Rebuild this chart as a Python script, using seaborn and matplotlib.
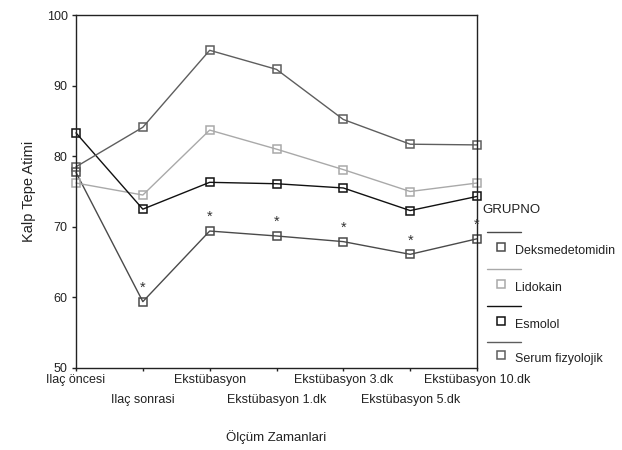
import numpy as np
import pandas as pd
import matplotlib
matplotlib.use("Agg")
import matplotlib.pyplot as plt
import seaborn as sns
from matplotlib.lines import Line2D

# Data
zamanlar = ["Ilaç öncesi", "Ilaç sonrasi", "Ekstübasyon", "Ekstübasyon 1.dk",
            "Ekstübasyon 3.dk", "Ekstübasyon 5.dk", "Ekstübasyon 10.dk"]
gruplar = ["Deksmedetomidin", "Lidokain", "Esmolol", "Serum fizyolojik"]
deksmedetomidin = [77.7, 59.4, 69.4, 68.7, 67.9, 66.1, 68.3]
lidokain = [76.2, 74.5, 83.7, 81.0, 78.1, 75.0, 76.2]
esmolol = [83.3, 72.5, 76.3, 76.1, 75.5, 72.3, 74.3]
serum = [78.5, 84.1, 95.0, 92.3, 85.2, 81.7, 81.6]
anlamli = [False, True, True, True, True, True, True]  # asterisks on Deksmedetomidin
renkler = ["#4a4a4a", "#a9a9a9", "#111111", "#5e5e5e"]

df = pd.DataFrame({
    "zaman": np.tile(np.arange(len(zamanlar)), len(gruplar)),
    "deger": deksmedetomidin + lidokain + esmolol + serum,
    "grup": np.repeat(gruplar, len(zamanlar)),
})

sns.set_style("white")
plt.rcParams['font.family'] = ['Liberation Sans', 'DejaVu Sans']
FS = 9

W, H = 622, 450
fig = plt.figure(figsize=(W / 100, H / 100), dpi=100)
ax = fig.add_axes([76 / W, 1 - 368 / H, (477 - 76) / W, (368 - 15) / H])

for grup, renk in zip(gruplar, renkler):
    sub = df[df["grup"] == grup]
    sns.lineplot(data=sub, x="zaman", y="deger", ax=ax, color=renk, lw=1.0,
                 marker="s", ms=6, mfc="none", mec=renk, mew=1.1,
                 sort=False, clip_on=False, legend=False)

# significance asterisks
for i, (v, s) in enumerate(zip(deksmedetomidin, anlamli)):
    if s:
        ax.annotate("*", (i, v), xytext=(0, 5), textcoords="offset points",
                    ha="center", va="bottom", fontsize=10.5, color="#333333")

ax.set_xlim(0, len(zamanlar) - 1)
ax.set_ylim(50, 100)
ax.set_yticks([50, 60, 70, 80, 90, 100])
ax.set_xticks(range(0, len(zamanlar), 2))
ax.set_xticklabels(zamanlar[0::2])
ax.set_xticks(range(1, len(zamanlar), 2), minor=True)
ax.set_xticklabels(zamanlar[1::2], minor=True)
ax.tick_params(axis="y", which="major", direction="out", length=3, width=1,
               pad=3, labelsize=FS, colors="#222222", left=True)
ax.tick_params(axis="x", which="major", direction="out", length=2.5, width=1,
               pad=2, labelsize=FS, colors="#222222", bottom=True)
ax.tick_params(axis="x", which="minor", direction="out", length=2.5, width=1,
               pad=16, labelsize=FS, colors="#222222", bottom=True)

for sp in ax.spines.values():
    sp.set_visible(True)
    sp.set_color("#222222")
    sp.set_linewidth(1.0)

ax.set_xlabel("Ölçüm Zamanlari", fontsize=9.5, color="#222222")
ax.xaxis.set_label_coords(0.5, -0.175)
ax.set_ylabel("Kalp Tepe Atimi", fontsize=10.5, color="#222222")
ax.yaxis.set_label_coords(-0.1, 0.5)

# legend (SPSS style: line above marker)
def fx(x):
    return x / W

def fy(y):
    return 1 - y / H

fig.text(fx(482), fy(210), "GRUPNO", fontsize=9.5, va="center", ha="left", color="#222222")
line_y = [232, 269, 306, 342]
mark_y = [247, 284, 321, 355]
for grup, renk, ly, my in zip(gruplar, renkler, line_y, mark_y):
    fig.add_artist(Line2D([fx(487), fx(521)], [fy(ly), fy(ly)], color=renk, lw=1.0,
                          transform=fig.transFigure))
    fig.add_artist(Line2D([fx(501)], [fy(my)], color=renk, marker="s", ms=6,
                          mfc="none", mec=renk, mew=1.1, transform=fig.transFigure))
    fig.text(fx(515), fy(my + 4), grup, fontsize=FS, va="center", ha="left", color="#222222")

fig.savefig("out.png", dpi=100)
